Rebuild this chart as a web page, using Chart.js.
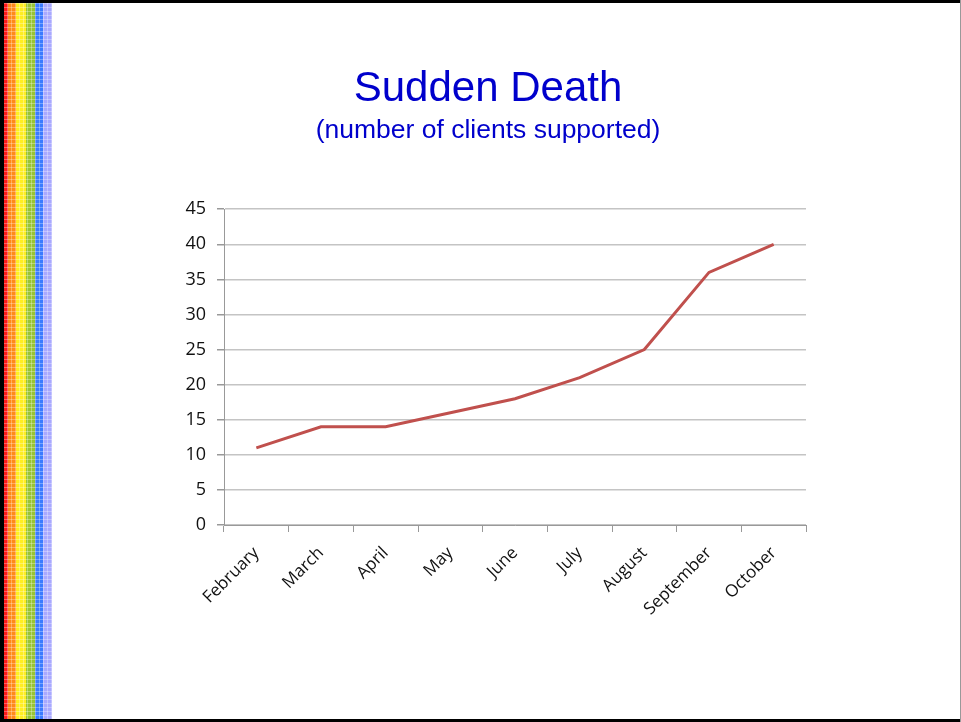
<!DOCTYPE html>
<html>
<head>
<meta charset="utf-8">
<script src="https://cdn.jsdelivr.net/npm/chart.js@4"></script>
<style>
  html, body { margin: 0; padding: 0; background: #fff; }
  #slide { position: relative; width: 961px; height: 722px; overflow: hidden; background: #fff; }
  #stripe {
    position: absolute; left: 0; top: 0; width: 52px; height: 722px;
    background: linear-gradient(to right,
      #000 0px, #000 4px,
      #ff1a1a 4px, #ff1a1a 8px,
      #ff8a1a 8px, #ff8a1a 16px,
      #ffee22 16px, #ffee22 26px,
      #99c433 26px, #99c433 35px,
      #3b7bff 35px, #3b7bff 43px,
      #a9a9ff 43px, #a9a9ff 52px);
  }
  #dots {
    position: absolute; left: 4px; top: 0; width: 48px; height: 722px;
    background-image:
      repeating-linear-gradient(to right, rgba(255,255,255,0) 0px, rgba(255,255,255,0) 3px, rgba(255,255,255,0.3) 3px, rgba(255,255,255,0.3) 4px),
      repeating-linear-gradient(to bottom, rgba(255,255,255,0) 0px, rgba(255,255,255,0) 3px, rgba(255,255,255,0.3) 3px, rgba(255,255,255,0.3) 4px);
  }
  #chart { position: absolute; left: 0; top: 0; }
  .edge { position: absolute; background: #000; }
</style>
</head>
<body>
<div id="slide">
  <div id="stripe"></div>
  <div id="dots"></div>
  <canvas id="chart" width="961" height="722"></canvas>
  <div class="edge" style="left:0;top:0;width:961px;height:3px;"></div>
  <div class="edge" style="left:0;top:719px;width:961px;height:3px;"></div>
  <div class="edge" style="left:960px;top:0;width:1px;height:722px;background:#999;"></div>
</div>
<script>
const months = ['February', 'March', 'April', 'May', 'June', 'July', 'August', 'September', 'October'];
const clients = [11, 14, 14, 16, 18, 21, 25, 36, 40];
const yTicks = [0, 5, 10, 15, 20, 25, 30, 35, 40, 45];

new Chart(document.getElementById('chart'), {
    type: 'line',
    data: {
        labels: months,
        datasets: [{
            label: 'Clients',
            data: clients,
            borderColor: '#c0504d',
            borderWidth: 3,
            pointRadius: 0,
            tension: 0,
            fill: false
        }]
    },
    options: {
        responsive: false,
        devicePixelRatio: 1,
        animation: false,
        layout: { padding: { left: 170, right: 155, top: 0, bottom: 0 } },
        plugins: {
            legend: { display: false },
            tooltip: { enabled: false },
            title: {
                display: true,
                text: 'Sudden Death',
                color: '#0000cc',
                font: { family: 'Liberation Sans, Arial, sans-serif', size: 42, weight: 'normal' },
                padding: { top: 64, bottom: 0 }
            },
            subtitle: {
                display: true,
                text: '(number of clients supported)',
                color: '#0000cc',
                font: { family: 'Liberation Sans, Arial, sans-serif', size: 26.5, weight: 'normal' },
                padding: { top: 0, bottom: 63 }
            }
        },
        scales: {
            x: {
                offset: true,
                grid: { offset: true, drawOnChartArea: false, drawTicks: true, tickLength: 7, color: '#999' },
                border: { display: true, color: '#999', width: 1 },
                ticks: {
                    minRotation: 45, maxRotation: 45, padding: 11,
                    color: '#111',
                    font: { family: 'Open Sans, sans-serif', size: 17 }
                },
                afterFit: s => { s.height = 197; }
            },
            y: {
                min: 0, max: 45,
                afterBuildTicks: s => { s.ticks = yTicks.map(v => ({ value: v })); },
                grid: { color: '#c4c4c4', lineWidth: 1.5, tickLength: 7, tickColor: '#999' },
                border: { display: true, color: '#999', width: 1 },
                ticks: {
                    padding: 11,
                    color: '#111',
                    font: { family: 'Open Sans, sans-serif', size: 18 }
                },
                afterFit: s => { s.width = 54; }
            }
        }
    }
});
</script>
</body>
</html>
